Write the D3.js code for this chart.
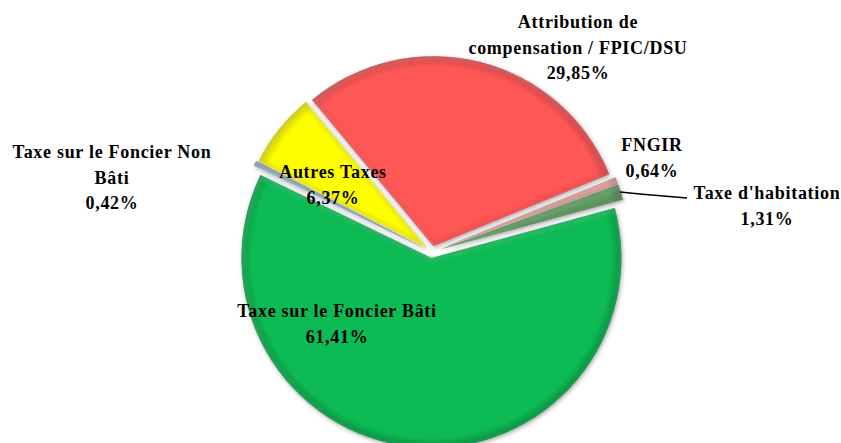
<!DOCTYPE html>
<html lang="fr">
<head>
<meta charset="UTF-8">
<title>Recettes</title>
<script src="https://d3js.org/d3.v7.min.js"></script>
<style>
  body { margin: 0; background: #fff; }
  text { font-family: "Liberation Serif", "DejaVu Serif", serif; font-weight: bold; font-size: 18px; letter-spacing: 0.7px; fill: #000; }
</style>
</head>
<body>
<div id="chart"></div>
<script>
// data, clockwise from the top-left edge of the red slice
var categories = ["Attribution de compensation / FPIC/DSU", "FNGIR", "Taxe d'habitation",
                  "Taxe sur le Foncier Bâti", "Taxe sur le Foncier Non Bâti", "Autres Taxes"];
var values = [29.85, 0.64, 1.31, 61.41, 0.42, 6.37];
var valueLabels = ["29,85%", "0,64%", "1,31%", "61,41%", "0,42%", "6,37%"];
var colors = ["#ff5757", "#eba3a3", "#5f9b60", "#0abb55", "#9cbdd0", "#ffff00"];

// label layout (lines, centre x, first baseline)
var labelLines = [
  ["Attribution de", "compensation / FPIC/DSU"],
  ["FNGIR"],
  ["Taxe d'habitation"],
  ["Taxe sur le Foncier Bâti"],
  ["Taxe sur le Foncier Non", "Bâti"],
  ["Autres Taxes"]
];
var labelPos = [[578, 28], [652, 151], [767, 199], [337, 317], [112, 158], [333, 178]];

var width = 841, height = 443;
var cx = 432, cy = 252, radius = 190, explode = 6;

var svg = d3.select("#chart").append("svg")
    .attr("width", width).attr("height", height);

var defs = svg.append("defs");

var shadow = defs.append("filter").attr("id", "shadow")
    .attr("x", "-20%").attr("y", "-20%").attr("width", "140%").attr("height", "140%");
shadow.append("feDropShadow").attr("dx", 1).attr("dy", 1.5)
    .attr("stdDeviation", 2).attr("flood-color", "#000").attr("flood-opacity", 0.35);

var blur = defs.append("filter").attr("id", "soft");
blur.append("feGaussianBlur").attr("stdDeviation", 2.2);

var pie = d3.pie().sort(null).value(function(d) { return d; })
    .startAngle(-39.7 * Math.PI / 180)
    .endAngle(-39.7 * Math.PI / 180 + 2 * Math.PI);

var arc = d3.arc().innerRadius(0).outerRadius(radius);
var arcs = pie(values);

var g = svg.append("g").attr("transform", "translate(" + cx + "," + cy + ")");

var slices = g.selectAll("g.slice").data(arcs).enter().append("g")
    .attr("class", "slice")
    .attr("transform", function(d) {
      var a = (d.startAngle + d.endAngle) / 2;
      var e = d.value < 2 ? explode + 2 : explode;
      return "translate(" + (Math.sin(a) * e) + "," + (-Math.cos(a) * e) + ")";
    });

slices.each(function(d, i) {
  var s = d3.select(this);
  var cp = defs.append("clipPath").attr("id", "clip" + i);
  cp.append("path").attr("d", arc(d));

  var grad = defs.append("radialGradient").attr("id", "grad" + i)
      .attr("gradientUnits", "userSpaceOnUse")
      .attr("cx", 0).attr("cy", 0).attr("r", radius);
  var c = d3.color(colors[i]);
  grad.append("stop").attr("offset", "0").attr("stop-color", c.formatHex());
  grad.append("stop").attr("offset", "0.94").attr("stop-color", c.formatHex());
  grad.append("stop").attr("offset", "1").attr("stop-color", c.darker(0.6).formatHex());

  s.append("path").attr("d", arc(d))
      .attr("fill", "url(#grad" + i + ")")
      .attr("filter", "url(#shadow)");

  // bevel: dark inner edge and light highlight
  var bevel = s.append("g").attr("clip-path", "url(#clip" + i + ")");
  bevel.append("path").attr("d", arc(d))
      .attr("fill", "none").attr("stroke", c.darker(1).formatHex())
      .attr("stroke-width", 5).attr("opacity", 0.45)
      .attr("filter", "url(#soft)");
  bevel.append("path").attr("d", arc(d))
      .attr("fill", "none").attr("stroke", "#fff")
      .attr("stroke-width", 3).attr("opacity", 0.25)
      .attr("transform", "translate(1,1.5)")
      .attr("filter", "url(#soft)");
});

// leader line for Taxe d'habitation
svg.append("path")
    .attr("d", "M620,192 L640,194 L687,198")
    .attr("fill", "none").attr("stroke", "#000").attr("stroke-width", 1.3);

// labels
var lineH = 25.5;
categories.forEach(function(cat, i) {
  var lines = labelLines[i].concat([valueLabels[i]]);
  var t = svg.append("text")
      .attr("text-anchor", "middle")
      .attr("x", labelPos[i][0]).attr("y", labelPos[i][1]);
  lines.forEach(function(l, j) {
    t.append("tspan").attr("x", labelPos[i][0])
        .attr("dy", j === 0 ? 0 : lineH).text(l);
  });
});
</script>
</body>
</html>
